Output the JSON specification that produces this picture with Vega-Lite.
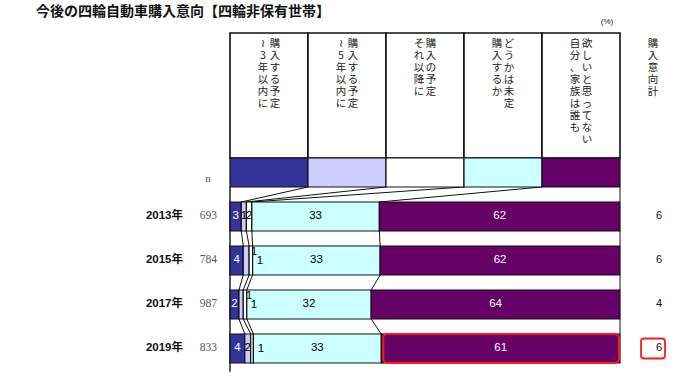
{
  "$schema": "https://vega.github.io/schema/vega-lite/v6.json",
  "autosize": {"type": "none"},
  "width": 390,
  "height": 377,
  "padding": {"left": 230, "right": 80, "top": 0, "bottom": 0},
  "background": "white",
  "config": {"view": {"stroke": null}, "axis": {"disable": true}},
  "data": {"values": [
    {"year": "", "n": "n", "r": 0, "k": 1, "v": 20, "lab": "", "a": "≀\n3\n年\n以\n内\nに", "b": "購\n入\nす\nる\n予\n定"},
    {"year": "", "n": "n", "r": 0, "k": 2, "v": 20, "lab": "", "a": "≀\n5\n年\n以\n内\nに", "b": "購\n入\nす\nる\n予\n定"},
    {"year": "", "n": "n", "r": 0, "k": 3, "v": 20, "lab": "", "a": "そ\nれ\n以\n降\nに", "b": "購\n入\nの\n予\n定"},
    {"year": "", "n": "n", "r": 0, "k": 4, "v": 20, "lab": "", "a": "購\n入\nす\nる\nか", "b": "ど\nう\nか\nは\n未\n定"},
    {"year": "", "n": "n", "r": 0, "k": 5, "v": 20, "lab": "", "a": "自\n分\n、\n家\n族\nは\n誰\nも", "b": "欲\nし\nい\nと\n思\nっ\nて\nな\nい"},
    {"year": "2013年", "n": 693, "r": 1, "k": 1, "v": 2.9, "lab": 3, "tot": 6},
    {"year": "2013年", "n": 693, "r": 1, "k": 2, "v": 1.3, "lab": 1, "tot": 6},
    {"year": "2013年", "n": 693, "r": 1, "k": 3, "v": 1.4, "lab": 2, "tot": 6},
    {"year": "2013年", "n": 693, "r": 1, "k": 4, "v": 32.7, "lab": 33, "tot": 6},
    {"year": "2013年", "n": 693, "r": 1, "k": 5, "v": 61.7, "lab": 62, "tot": 6},
    {"year": "2015年", "n": 784, "r": 2, "k": 1, "v": 3.4, "lab": 4, "tot": 6},
    {"year": "2015年", "n": 784, "r": 2, "k": 2, "v": 1.5, "lab": 1, "tot": 6},
    {"year": "2015年", "n": 784, "r": 2, "k": 3, "v": 0.9, "lab": 1, "tot": 6},
    {"year": "2015年", "n": 784, "r": 2, "k": 4, "v": 32.7, "lab": 33, "tot": 6},
    {"year": "2015年", "n": 784, "r": 2, "k": 5, "v": 61.5, "lab": 62, "tot": 6},
    {"year": "2017年", "n": 987, "r": 3, "k": 1, "v": 2.3, "lab": 2, "tot": 4},
    {"year": "2017年", "n": 987, "r": 3, "k": 2, "v": 1.1, "lab": 1, "tot": 4},
    {"year": "2017年", "n": 987, "r": 3, "k": 3, "v": 0.9, "lab": 1, "tot": 4},
    {"year": "2017年", "n": 987, "r": 3, "k": 4, "v": 31.9, "lab": 32, "tot": 4},
    {"year": "2017年", "n": 987, "r": 3, "k": 5, "v": 63.8, "lab": 64, "tot": 4},
    {"year": "2019年", "n": 833, "r": 4, "k": 1, "v": 3.8, "lab": 4, "tot": 6},
    {"year": "2019年", "n": 833, "r": 4, "k": 2, "v": 1.5, "lab": 2, "tot": 6},
    {"year": "2019年", "n": 833, "r": 4, "k": 3, "v": 0.7, "lab": 1, "tot": 6},
    {"year": "2019年", "n": 833, "r": 4, "k": 4, "v": 32.8, "lab": 33, "tot": 6},
    {"year": "2019年", "n": 833, "r": 4, "k": 5, "v": 61.2, "lab": 61, "tot": 6}
  ]},
  "layer": [
    {
      "transform": [
        {"stack": "v", "groupby": ["r"], "sort": [{"field": "k", "order": "ascending"}], "as": ["v0", "v1"]},
        {"filter": "datum.r == 0"}
      ],
      "mark": {"type": "rect", "fill": "#ffffff", "stroke": "#111111", "strokeWidth": 1.6},
      "encoding": {
        "x": {"field": "v0", "type": "quantitative", "scale": {"domain": [0, 100], "nice": false, "zero": false}},
        "x2": {"field": "v1"},
        "y": {"datum": -3.17, "type": "quantitative", "scale": {"domain": [-3.92, 4.648], "reverse": true, "nice": false, "zero": false}},
        "y2": {"datum": -0.33}
      }
    },
    {
      "transform": [
        {"stack": "v", "groupby": ["r"], "sort": [{"field": "k", "order": "ascending"}], "as": ["v0", "v1"]},
        {"window": [{"op": "lead", "field": "v1", "as": "nv1"}, {"op": "lead", "field": "r", "as": "nr"}], "groupby": ["k"], "sort": [{"field": "r", "order": "ascending"}]},
        {"filter": "datum.nr != null"}
      ],
      "mark": {"type": "rule", "stroke": "#111111", "strokeWidth": 1, "yOffset": 14.5, "y2Offset": -14.5},
      "encoding": {
        "x": {"field": "v1", "type": "quantitative"},
        "x2": {"field": "nv1"},
        "y": {"field": "r", "type": "quantitative"},
        "y2": {"field": "nr"}
      }
    },
    {
      "mark": {"type": "rule", "stroke": "#222222", "strokeWidth": 1.5},
      "data": {"values": [{"edge": "left"}]},
      "encoding": {
        "x": {"datum": 0, "type": "quantitative"},
        "y": {"datum": 0.33, "type": "quantitative"},
        "y2": {"datum": 4.53}
      }
    },
    {
      "transform": [
        {"stack": "v", "groupby": ["r"], "sort": [{"field": "k", "order": "ascending"}], "as": ["v0", "v1"]}
      ],
      "mark": {"type": "rect", "stroke": "#111111", "strokeWidth": 1.2, "yOffset": -14.5, "y2Offset": 14.5},
      "encoding": {
        "x": {"field": "v0", "type": "quantitative"},
        "x2": {"field": "v1"},
        "y": {"field": "r", "type": "quantitative"},
        "y2": {"field": "r"},
        "fill": {"field": "k", "type": "nominal", "legend": null, "scale": {"domain": [1, 2, 3, 4, 5], "range": ["#333399", "#ccccff", "#ffffff", "#ccffff", "#660066"]}}
      }
    },
    {
      "transform": [
        {"stack": "v", "groupby": ["r"], "sort": [{"field": "k", "order": "ascending"}], "as": ["v0", "v1"]},
        {"filter": "datum.r == 4 && datum.k == 5"}
      ],
      "mark": {"type": "rect", "fill": "#660066", "stroke": "#ff1a1a", "strokeWidth": 2, "cornerRadius": 4, "xOffset": 2, "x2Offset": -1, "yOffset": -14.5, "y2Offset": 14.5},
      "encoding": {
        "x": {"field": "v0", "type": "quantitative"},
        "x2": {"field": "v1"},
        "y": {"field": "r", "type": "quantitative"},
        "y2": {"field": "r"}
      }
    },
    {
      "transform": [
        {"filter": "datum.r == 4 && datum.k == 1"}
      ],
      "mark": {"type": "rect", "fill": "#ffffff", "stroke": "#ff1a1a", "strokeWidth": 1.8, "cornerRadius": 3, "xOffset": 21, "x2Offset": 45, "yOffset": -10, "y2Offset": 10},
      "encoding": {
        "x": {"datum": 100, "type": "quantitative"},
        "x2": {"datum": 100},
        "y": {"field": "r", "type": "quantitative"},
        "y2": {"field": "r"}
      }
    },
    {
      "transform": [
        {"stack": "v", "groupby": ["r"], "sort": [{"field": "k", "order": "ascending"}], "as": ["v0", "v1"]},
        {"fold": ["v0", "v1"], "as": ["edge", "pos"]},
        {"aggregate": [{"op": "mean", "field": "pos", "as": "mid"}], "groupby": ["r", "k", "lab", "a", "b"]}
      ],
      "layer": [
        {
          "transform": [{"filter": "datum.r > 0 && (datum.k == 1 || datum.k == 5)"}],
          "mark": {"type": "text", "font": "Liberation Sans", "fontSize": 11.5, "color": "#ffffff"},
          "encoding": {"x": {"field": "mid", "type": "quantitative"}, "y": {"field": "r", "type": "quantitative"}, "text": {"field": "lab"}}
        },
        {
          "transform": [{"filter": "datum.r > 0 && datum.k == 4"}],
          "mark": {"type": "text", "font": "Liberation Sans", "fontSize": 11.5, "color": "#000000"},
          "encoding": {"x": {"field": "mid", "type": "quantitative"}, "y": {"field": "r", "type": "quantitative"}, "text": {"field": "lab"}}
        },
        {
          "transform": [{"filter": "datum.k == 2 && (datum.r == 1 || datum.r == 4)"}],
          "mark": {"type": "text", "font": "Liberation Sans", "fontSize": 11.5, "color": "#000000"},
          "encoding": {"x": {"field": "mid", "type": "quantitative"}, "y": {"field": "r", "type": "quantitative"}, "text": {"field": "lab"}}
        },
        {
          "transform": [{"filter": "datum.k == 2 && (datum.r == 2 || datum.r == 3)"}],
          "mark": {"type": "text", "font": "Liberation Sans", "fontSize": 11, "color": "#000000", "dx": 8, "dy": -8},
          "encoding": {"x": {"field": "mid", "type": "quantitative"}, "y": {"field": "r", "type": "quantitative"}, "text": {"field": "lab"}}
        },
        {
          "transform": [{"filter": "datum.k == 3 && datum.r == 1"}],
          "mark": {"type": "text", "font": "Liberation Sans", "fontSize": 11.5, "color": "#000000"},
          "encoding": {"x": {"field": "mid", "type": "quantitative"}, "y": {"field": "r", "type": "quantitative"}, "text": {"field": "lab"}}
        },
        {
          "transform": [{"filter": "datum.k == 3 && datum.r > 1"}],
          "mark": {"type": "text", "font": "Liberation Sans", "fontSize": 11.5, "color": "#000000", "dx": 9, "dy": 1},
          "encoding": {"x": {"field": "mid", "type": "quantitative"}, "y": {"field": "r", "type": "quantitative"}, "text": {"field": "lab"}}
        },
        {
          "transform": [{"filter": "datum.r == 0"}],
          "mark": {"type": "text", "font": "Noto Sans CJK JP", "fontSize": 10.5, "color": "#222222", "baseline": "top", "lineBreak": "\n", "lineHeight": 12, "dx": -6},
          "encoding": {"x": {"field": "mid", "type": "quantitative"}, "y": {"datum": -3.03, "type": "quantitative"}, "text": {"field": "a"}}
        },
        {
          "transform": [{"filter": "datum.r == 0"}],
          "mark": {"type": "text", "font": "Noto Sans CJK JP", "fontSize": 10.5, "color": "#222222", "baseline": "top", "lineBreak": "\n", "lineHeight": 12, "dx": 6},
          "encoding": {"x": {"field": "mid", "type": "quantitative"}, "y": {"datum": -3.03, "type": "quantitative"}, "text": {"field": "b"}}
        }
      ]
    },
    {
      "transform": [{"filter": "datum.k == 1 && datum.r > 0"}],
      "mark": {"type": "text", "font": "Liberation Sans, Noto Sans CJK JP", "fontSize": 11.5, "fontWeight": "bold", "color": "#111111", "align": "right", "dx": -47},
      "encoding": {"x": {"datum": 0, "type": "quantitative"}, "y": {"field": "r", "type": "quantitative"}, "text": {"field": "year"}}
    },
    {
      "transform": [{"filter": "datum.k == 1 && datum.r > 0"}],
      "mark": {"type": "text", "font": "Liberation Serif", "fontSize": 11.5, "color": "#555555", "align": "right", "dx": -13},
      "encoding": {"x": {"datum": 0, "type": "quantitative"}, "y": {"field": "r", "type": "quantitative"}, "text": {"field": "n"}}
    },
    {
      "transform": [{"filter": "datum.k == 1 && datum.r == 0"}],
      "mark": {"type": "text", "font": "Liberation Serif", "fontSize": 11, "color": "#555555", "dx": -22, "dy": 7},
      "encoding": {"x": {"datum": 0, "type": "quantitative"}, "y": {"field": "r", "type": "quantitative"}, "text": {"field": "n"}}
    },
    {
      "transform": [{"filter": "datum.k == 1 && datum.r > 0"}],
      "mark": {"type": "text", "font": "Liberation Sans", "fontSize": 11, "color": "#111111", "dx": 39},
      "encoding": {"x": {"datum": 100, "type": "quantitative"}, "y": {"field": "r", "type": "quantitative"}, "text": {"field": "tot"}}
    },
    {
      "data": {"values": [{"t": "購\n入\n意\n向\n計"}]},
      "mark": {"type": "text", "font": "Noto Sans CJK JP", "fontSize": 10.5, "color": "#222222", "baseline": "top", "lineBreak": "\n", "lineHeight": 12, "dx": 33},
      "encoding": {"x": {"datum": 100, "type": "quantitative"}, "y": {"datum": -3.03, "type": "quantitative"}, "text": {"field": "t"}}
    },
    {
      "data": {"values": [{"t": "(%)"}]},
      "mark": {"type": "text", "font": "Liberation Sans", "fontSize": 8, "color": "#222222", "dx": -13},
      "encoding": {"x": {"datum": 100, "type": "quantitative"}, "y": {"datum": -3.42, "type": "quantitative"}, "text": {"field": "t"}}
    },
    {
      "data": {"values": [{"t": "今後の四輪自動車購入意向【四輪非保有世帯】"}]},
      "mark": {"type": "text", "font": "Noto Sans CJK JP", "fontSize": 14, "fontWeight": "bold", "color": "#111111", "align": "left", "dx": -194},
      "encoding": {"x": {"datum": 0, "type": "quantitative"}, "y": {"datum": -3.648, "type": "quantitative"}, "text": {"field": "t"}}
    }
  ]
}
